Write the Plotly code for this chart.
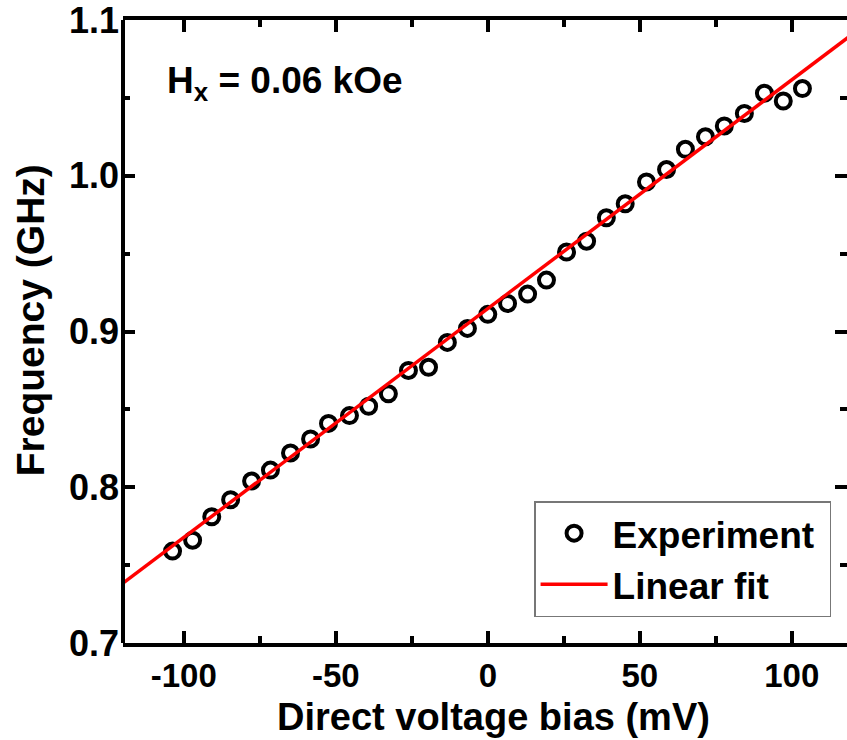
import numpy as np
import plotly.graph_objects as go

# Data
bias_mv = [-103.7, -97.1, -90.8, -84.6, -77.7, -71.5, -64.9, -58.3, -52.4, -45.5,
           -39.2, -32.7, -26.1, -19.5, -13.3, -6.7, 0.0, 6.5, 13.1, 19.3,
           25.9, 32.5, 39.0, 45.2, 52.2, 58.8, 65.0, 71.6, 77.8, 84.4,
           91.0, 97.2, 103.5]
freq_ghz = [0.759, 0.766, 0.781, 0.792, 0.804, 0.811, 0.822, 0.831, 0.841, 0.846,
            0.852, 0.860, 0.875, 0.877, 0.893, 0.902, 0.911, 0.918, 0.924, 0.933,
            0.951, 0.958, 0.973, 0.982, 0.996, 1.004, 1.017, 1.025, 1.032, 1.040,
            1.053, 1.048, 1.056]
fit_slope = 0.001469      # GHz per mV
fit_intercept = 0.9147    # GHz
fit_x = [-120, 120]

x_ticks = [-100, -50, 0, 50, 100]
y_ticks = [0.7, 0.8, 0.9, 1.0, 1.1]

FONT = "Liberation Sans"

fit_y = [fit_intercept + fit_slope * v for v in fit_x]

fig = go.Figure()
fig.add_trace(go.Scatter(
    x=bias_mv, y=freq_ghz, mode="markers", name="Experiment\u00a0",
    marker=dict(symbol="circle-open", size=15, color="black",
                line=dict(width=4, color="black")),
))
fig.add_trace(go.Scatter(
    x=fit_x, y=fit_y, mode="lines", name="Linear fit",
    line=dict(color="#ff0000", width=3.5),
))

x_tick_font = dict(family=FONT, size=33, color="black", weight="bold")
y_tick_font = dict(family=FONT, size=36, color="black", weight="bold")

fig.update_xaxes(
    range=[-120, 118.16], tickvals=x_ticks, ticktext=[str(v) for v in x_ticks],
    showline=True, linewidth=4, linecolor="black", mirror="ticks",
    ticks="inside", ticklen=12, tickwidth=3.5, tickcolor="black",
    minor=dict(ticks="inside", ticklen=7, tickwidth=3.5, tickcolor="black", dtick=25, tick0=0),
    showgrid=False, zeroline=False, tickfont=x_tick_font, ticklabeloverflow="allow",
)
fig.update_yaxes(
    range=[0.7, 1.1], tickvals=y_ticks, ticktext=[f"{v:.1f}" for v in y_ticks],
    showline=False, mirror="ticks",
    ticks="inside", ticklen=12, tickwidth=3.5, tickcolor="black",
    minor=dict(ticks="inside", ticklen=7, tickwidth=3.5, tickcolor="black", dtick=0.05, tick0=0.7),
    showgrid=False, zeroline=False, tickfont=y_tick_font, ticklabeloverflow="allow",
    ticklabelstandoff=3,
)

fig.add_shape(type="line", xref="paper", yref="paper", x0=0, x1=0, y0=0, y1=1,
              line=dict(color="black", width=4))

# axis titles
fig.add_annotation(
    xref="paper", yref="paper", x=0.5117, y=-0.1184, xanchor="center", yanchor="middle",
    text="Direct voltage bias (mV)", showarrow=False,
    font=dict(family=FONT, size=38, color="black", weight="bold"),
)
fig.add_annotation(
    xref="paper", yref="paper", x=-0.1285, y=0.518, xanchor="center", yanchor="middle",
    text="Frequency (GHz)", showarrow=False, textangle=-90,
    font=dict(family=FONT, size=39, color="black", weight="bold"),
)

fig.add_annotation(
    xref="paper", yref="paper", x=0.058, y=0.899, xanchor="left", yanchor="middle",
    text="H<sub>x</sub> = 0.06 kOe", showarrow=False,
    font=dict(family=FONT, size=37, color="black", weight="bold"),
)

fig.update_layout(
    width=847, height=740,
    margin=dict(l=123, r=0, t=18, b=97),
    plot_bgcolor="white", paper_bgcolor="white",
    showlegend=True,
    legend=dict(x=0.978, y=0.0416, xanchor="right", yanchor="bottom",
                bordercolor="#777777", borderwidth=1.5, bgcolor="white",
                font=dict(family=FONT, size=37, color="black", weight="bold"),
                itemwidth=67, tracegroupgap=0),
)

fig.write_html("out.html")
